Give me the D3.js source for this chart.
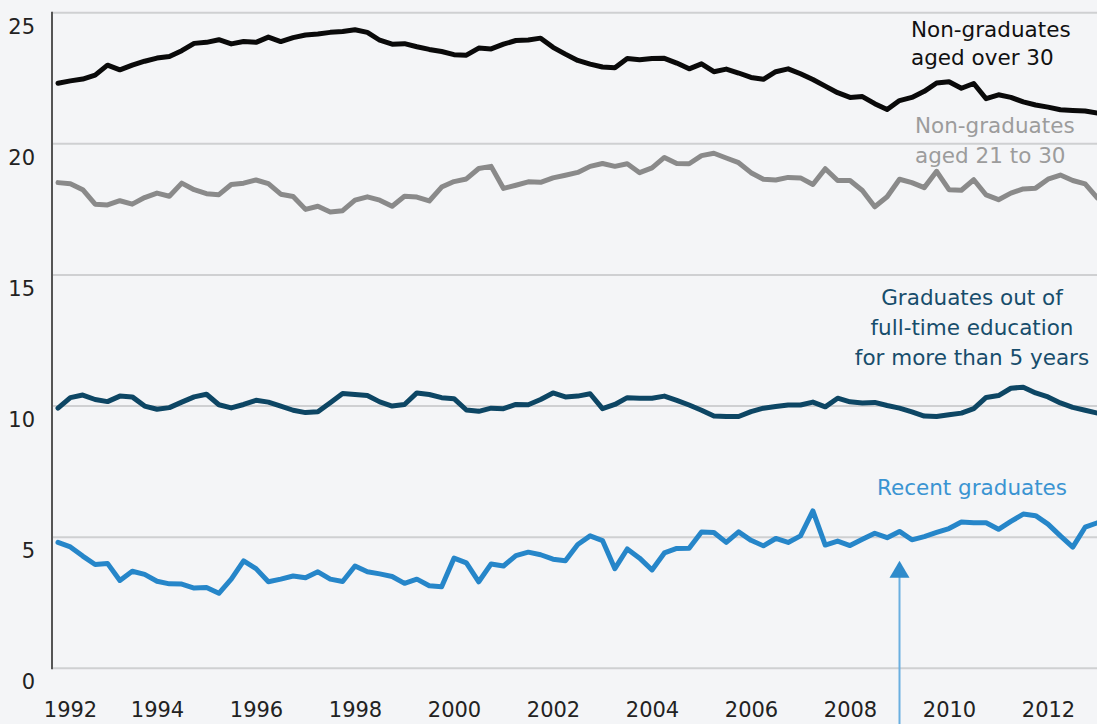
<!DOCTYPE html>
<html>
<head>
<meta charset="utf-8">
<script src="https://cdn.jsdelivr.net/npm/d3@7"></script>
<style>
  html, body { margin: 0; padding: 0; background: #f4f5f7; }
  svg { display: block; font-family: "DejaVu Sans", Verdana, sans-serif; }
</style>
</head>
<body>
<svg id="chart" width="1097" height="724"></svg>
<script>
// Quarterly observations, 1992 Q1 to 2013 Q1
const startYear = 1992;
const quarters = d3.range(85).map(i => startYear + i / 4);

const nonGradOver30 = [
  22.31, 22.40, 22.47, 22.62, 23.00, 22.82, 23.00, 23.15, 23.27, 23.33,
  23.55, 23.83, 23.87, 23.97, 23.81, 23.90, 23.87, 24.07, 23.90, 24.05,
  24.15, 24.19, 24.25, 24.28, 24.35, 24.25, 23.95, 23.80, 23.82, 23.70,
  23.60, 23.52, 23.40, 23.38, 23.65, 23.62, 23.80, 23.94, 23.96, 24.03,
  23.68, 23.42, 23.18, 23.04, 22.93, 22.90, 23.25, 23.21, 23.25, 23.26,
  23.08, 22.86, 23.05, 22.75, 22.85, 22.70, 22.53, 22.46, 22.75, 22.86,
  22.67, 22.45, 22.20, 21.95, 21.77, 21.80, 21.53, 21.31, 21.65, 21.77,
  22.00, 22.32, 22.37, 22.12, 22.30, 21.72, 21.87, 21.77, 21.60, 21.48,
  21.40, 21.30, 21.27, 21.25, 21.17
];

const nonGrad21to30 = [
  18.52, 18.48, 18.25, 17.70, 17.67, 17.83, 17.70, 17.95, 18.12, 18.00,
  18.50, 18.25, 18.10, 18.06, 18.45, 18.50, 18.62, 18.48, 18.08, 17.99,
  17.50, 17.62, 17.40, 17.45, 17.85, 17.98, 17.85, 17.62, 18.00, 17.97,
  17.82, 18.35, 18.56, 18.66, 19.06, 19.14, 18.30, 18.42, 18.55, 18.53,
  18.70, 18.80, 18.91, 19.14, 19.25, 19.14, 19.24, 18.90, 19.08, 19.48,
  19.25, 19.24, 19.55, 19.64, 19.46, 19.28, 18.90, 18.65, 18.62, 18.72,
  18.70, 18.45, 19.05, 18.60, 18.60, 18.22, 17.60, 17.98, 18.65, 18.52,
  18.33, 18.95, 18.25, 18.23, 18.63, 18.05, 17.87, 18.12, 18.28, 18.31,
  18.65, 18.81, 18.60, 18.47, 17.93
];

const gradsOver5Years = [
  9.92, 10.32, 10.42, 10.25, 10.17, 10.38, 10.35, 10.00, 9.88, 9.94,
  10.15, 10.35, 10.45, 10.05, 9.93, 10.06, 10.22, 10.15, 10.00, 9.84,
  9.75, 9.78, 10.13, 10.48, 10.44, 10.40, 10.16, 10.00, 10.06, 10.50,
  10.44, 10.32, 10.28, 9.85, 9.80, 9.92, 9.90, 10.06, 10.05, 10.25,
  10.50, 10.35, 10.38, 10.47, 9.90, 10.06, 10.32, 10.30, 10.30, 10.38,
  10.22, 10.04, 9.84, 9.62, 9.60, 9.60, 9.79, 9.92, 9.98, 10.04,
  10.04, 10.15, 9.97, 10.30, 10.16, 10.12, 10.14, 10.02, 9.92, 9.78,
  9.62, 9.60, 9.67, 9.73, 9.90, 10.33, 10.40, 10.68, 10.72, 10.50,
  10.35, 10.12, 9.95, 9.84, 9.73
];

const recentGrads = [
  4.80, 4.63, 4.28, 3.96, 4.00, 3.35, 3.70, 3.58, 3.32, 3.22,
  3.21, 3.06, 3.08, 2.86, 3.40, 4.10, 3.80, 3.30, 3.40, 3.52,
  3.45, 3.68, 3.40, 3.31, 3.90, 3.68, 3.60, 3.50, 3.24, 3.40,
  3.15, 3.11, 4.20, 4.02, 3.30, 3.98, 3.90, 4.30, 4.43, 4.33,
  4.16, 4.10, 4.72, 5.05, 4.87, 3.80, 4.55, 4.20, 3.75, 4.40,
  4.57, 4.58, 5.20, 5.18, 4.80, 5.20, 4.88, 4.67, 4.95, 4.80,
  5.05, 6.00, 4.70, 4.85, 4.68, 4.92, 5.15, 4.98, 5.22, 4.90,
  5.02, 5.18, 5.33, 5.58, 5.55, 5.55, 5.30, 5.60, 5.88, 5.82,
  5.50, 5.05, 4.62, 5.38, 5.55
];

const yTicks = [0, 5, 10, 15, 20, 25];
const xTicks = [1992, 1994, 1996, 1998, 2000, 2002, 2004, 2006, 2008, 2010, 2012];

const seriesNames = ["Non-graduates aged over 30", "Non-graduates aged 21 to 30",
                     "Graduates out of full-time education for more than 5 years", "Recent graduates"];
const seriesValues = [nonGradOver30, nonGrad21to30, gradsOver5Years, recentGrads];
const seriesColors = ["#0a0a0a", "#8a8a8a", "#0d4664", "#2686c9"];

const arrowYear = 2009;
const arrowTipValue = 4.1;

// ---- layout ----
const svg = d3.select("#chart");
const W = 1097, H = 724;
const axisX = 52;
const x = d3.scaleLinear().domain([1992, 2013]).range([58, 1097.5]);
const y = d3.scaleLinear().domain([0, 25]).range([668.3, 12.7]);

// gridlines
svg.append("g").selectAll("line").data(yTicks).join("line")
  .attr("x1", axisX).attr("x2", W)
  .attr("y1", d => y(d)).attr("y2", d => y(d))
  .attr("stroke", "#cfd0d2").attr("stroke-width", 2);

// y axis line
svg.append("line")
  .attr("x1", axisX).attr("x2", axisX)
  .attr("y1", y(25) - 1).attr("y2", y(0) + 1)
  .attr("stroke", "#555").attr("stroke-width", 2);

// y tick labels
const yAxis = d3.axisLeft(y).tickValues(yTicks).tickSize(0).tickPadding(0);
const gy = svg.append("g").attr("transform", `translate(35,0)`).call(yAxis);
gy.select(".domain").remove();
gy.selectAll("text")
  .attr("font-size", 21).attr("fill", "#222")
  .attr("font-family", "DejaVu Sans, Verdana, sans-serif")
  .attr("dy", null).attr("y", 20.5);

// x tick labels
const xAxis = d3.axisBottom(x).tickValues(xTicks).tickFormat(d3.format("d")).tickSize(0).tickPadding(0);
const gx = svg.append("g").attr("transform", `translate(0,0)`).call(xAxis);
gx.select(".domain").remove();
gx.selectAll("text")
  .attr("font-size", 21).attr("fill", "#222")
  .attr("font-family", "DejaVu Sans, Verdana, sans-serif")
  .attr("dy", null).attr("y", 717)
  .attr("dx", d => d === 1992 ? 12 : 0);

// lines
const line = d3.line().x((d, i) => x(quarters[i])).y(d => y(d));
svg.append("g").selectAll("path").data(seriesValues).join("path")
  .attr("d", d => line(d))
  .attr("fill", "none")
  .attr("stroke", (d, i) => seriesColors[i])
  .attr("stroke-width", 5)
  .attr("stroke-linejoin", "round")
  .attr("stroke-linecap", "round");

// arrow
const ax = x(arrowYear), tipY = y(arrowTipValue);
svg.append("line")
  .attr("x1", ax).attr("x2", ax).attr("y1", tipY + 10).attr("y2", H + 5)
  .attr("stroke", "#6aafe0").attr("stroke-width", 2);
svg.append("path")
  .attr("d", `M${ax},${tipY} L${ax - 10},${tipY + 17} L${ax + 10},${tipY + 17} Z`)
  .attr("fill", "#2f8bcb");

// annotations
const ann = svg.append("g").attr("font-family", "DejaVu Sans, Verdana, sans-serif").attr("font-size", 21.5);
function label(lines, xPos, y0, dy, color, anchor) {
  const t = ann.append("text").attr("fill", color).attr("text-anchor", anchor);
  lines.forEach((s, i) => t.append("tspan").attr("x", xPos).attr("y", y0 + i * dy).text(s));
}
label(["Non-graduates", "aged over 30"], 911, 36.5, 28.5, "#111", "start");
label(["Non-graduates", "aged 21 to 30"], 915, 133, 30, "#9c9c9c", "start");
label(["Graduates out of", "full-time education", "for more than 5 years"], 972, 305, 30, "#174d6c", "middle");
label(["Recent graduates"], 972, 495, 30, "#3a94d2", "middle");
</script>
</body>
</html>
